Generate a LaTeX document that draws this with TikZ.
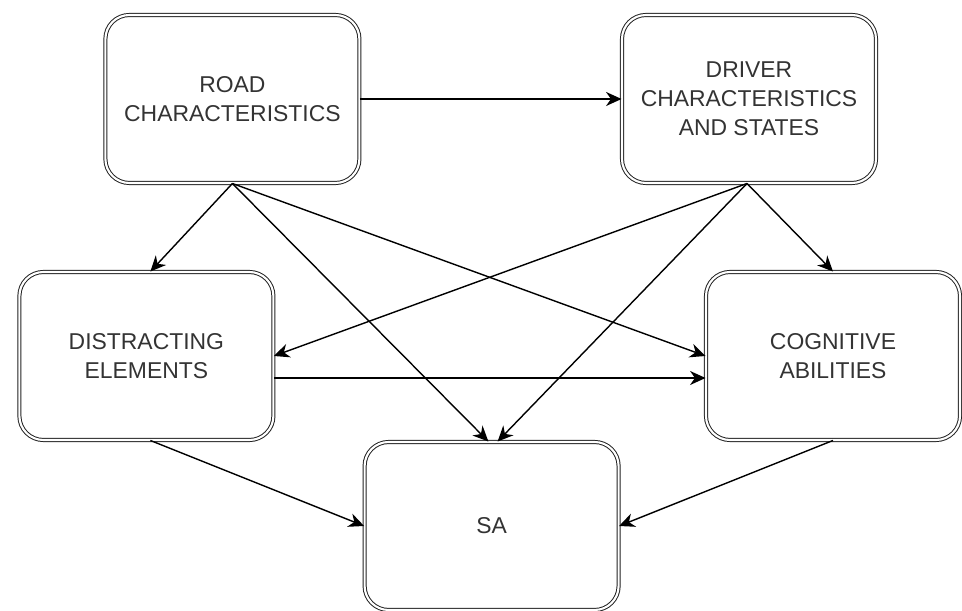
\documentclass[tikz,border=0pt]{standalone}
\usepackage{fontspec}
\setmainfont{Liberation Sans}
\usetikzlibrary{arrows.meta}
\definecolor{boxgrey}{HTML}{222222}
\definecolor{textgrey}{HTML}{333333}
\tikzset{
  box/.style={draw=boxgrey, line width=0.7pt, double=white, double distance=1.5pt,
    rounded corners=0.6cm, minimum width=6.35cm, minimum height=4.2cm,
    align=center, text=textgrey, font=\fontsize{16.3}{20.5}\selectfont},
  arrow/.style={-{Stealth[length=11pt,width=10pt,inset=3.5pt]}, line width=1pt}
}
\begin{document}
\begin{tikzpicture}
    \useasboundingbox (0,0) rectangle (24.05,15.275);
    \node[box] (road) at (5.81,12.8) {ROAD\\CHARACTERISTICS};
    \node[box] (driver) at (18.725,12.8) {DRIVER\\CHARACTERISTICS\\AND STATES};
    \node[box] (distract) at (3.66,6.375) {DISTRACTING\\ELEMENTS};
    \node[box] (cognit) at (20.825,6.375) {COGNITIVE\\ABILITIES};
    \node[box] (sa) at (12.29,2.125) {SA};
    \draw[arrow] (road) -- (driver);
    \draw[arrow] (road.south) -- ([xshift=0.1cm]distract.north);
    \draw[arrow] (road.south) -- ([xshift=-0.08cm]sa.north);
    \draw[arrow] (road.south) -- (cognit.west);
    \draw[arrow] ([xshift=-0.05cm]driver.south) -- (distract.east);
    \draw[arrow] ([xshift=-0.05cm]driver.south) -- ([xshift=0.15cm]sa.north);
    \draw[arrow] ([xshift=-0.05cm]driver.south) -- (cognit.north);
    \draw[arrow] ([yshift=-0.55cm]distract.east) -- ([yshift=-0.55cm]cognit.west);
    \draw[arrow] ([xshift=0.1cm]distract.south) -- (sa.west);
    \draw[arrow] (cognit.south) -- (sa.east);
\end{tikzpicture}
\end{document}
